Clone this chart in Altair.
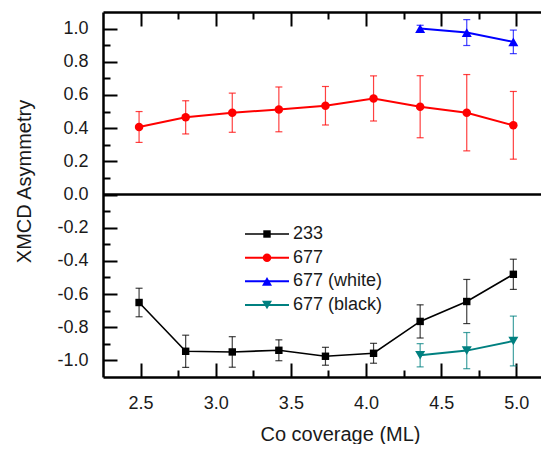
import altair as alt
import pandas as pd

# ---------------- data ----------------
coverage = [2.49, 2.80, 3.11, 3.42, 3.73, 4.05, 4.36, 4.67, 4.98]
coverage_hi = [4.36, 4.67, 4.98]

asym_233 = [-0.651, -0.945, -0.949, -0.939, -0.975, -0.957, -0.765, -0.645, -0.481]
err_233 = [0.086, 0.097, 0.092, 0.063, 0.054, 0.060, 0.100, 0.133, 0.091]

asym_677 = [0.407, 0.465, 0.493, 0.513, 0.535, 0.579, 0.529, 0.493, 0.417]
err_677 = [0.093, 0.100, 0.118, 0.135, 0.116, 0.136, 0.187, 0.230, 0.204]

asym_white = [1.000, 0.976, 0.920]
err_white = [0.020, 0.078, 0.071]

asym_black = [-0.969, -0.941, -0.883]
err_black = [0.070, 0.109, 0.150]

series_names = ["233", "677", "677 (white)", "677 (black)"]

x_major = [2.5, 3.0, 3.5, 4.0, 4.5, 5.0]
x_minor = [2.75, 3.25, 3.75, 4.25, 4.75]
y_major = [-1.0, -0.8, -0.6, -0.4, -0.2, 0.0, 0.2, 0.4, 0.6, 0.8, 1.0]
y_minor = [-0.9, -0.7, -0.5, -0.3, -0.1, 0.1, 0.3, 0.5, 0.7, 0.9]

# ---------------- styling ----------------
W, H = 438, 365
FONT = "Liberation Sans"
TXT = "#1a1a1a"
colors = ["#000000", "#ff0000", "#0000ff", "#008080"]
shapes = ["square", "circle", "triangle-up", "triangle-down"]
sizes = [55, 72, 100, 100]
line_widths = [1.6, 2.0, 2.0, 2.0]

# the reference frame runs past the right edge of the picture: keep the same
# pixels per unit and stop the plot area at the window edge
xs = alt.Scale(domain=[2.25, 5.164], nice=False, zero=False)
ys = alt.Scale(domain=[-1.1, 1.1], nice=False, zero=False)

label_expr = "replace(format(datum.value, '.1f'), '\u2212', '-')"

# ---------------- axes (frame with inward ticks) ----------------
axis_df = pd.DataFrame({"x": coverage, "y": asym_677})


def axis_layer(xaxis, yaxis):
    return alt.Chart(axis_df).mark_point(opacity=0).encode(
        x=alt.X("x:Q", scale=xs, axis=xaxis),
        y=alt.Y("y:Q", scale=ys, axis=yaxis),
    )


tick_common = dict(labels=False, grid=False, ticks=True, tickColor="#000000",
                   tickWidth=2, title=None)

x_label_axis = alt.Axis(
    orient="bottom", values=x_major, labelExpr=label_expr, ticks=False, tickSize=0,
    labelPadding=17, labelFont=FONT, labelFontSize=18, labelColor=TXT,
    domain=True, domainColor="#000000", domainWidth=2.5, grid=False,
    title="Co coverage (ML)", titleFont=FONT, titleFontSize=20, titleFontWeight="normal",
    titleColor=TXT, titleX=237, titleY=63, titleAlign="center",
    titleBaseline="alphabetic", titleAngle=0,
)
y_label_axis = alt.Axis(
    orient="left", values=y_major, labelExpr=label_expr, ticks=False, tickSize=0,
    labelPadding=15, labelFont=FONT, labelFontSize=18, labelColor=TXT,
    domain=True, domainColor="#000000", domainWidth=2.5, grid=False,
    title="XMCD Asymmetry", titleFont=FONT, titleFontSize=20, titleFontWeight="normal",
    titleColor=TXT, titleX=-73, titleY=169, titleAlign="center",
    titleBaseline="alphabetic", titleAngle=270,
)

axes = [
    axis_layer(x_label_axis, y_label_axis),
    # ticks on bottom/left edges pointing inward
    axis_layer(alt.Axis(orient="top", offset=-H, values=x_major, tickSize=14, domain=False, **tick_common),
               alt.Axis(orient="right", offset=-W, values=y_major, tickSize=14, domain=False, **tick_common)),
    axis_layer(alt.Axis(orient="top", offset=-H, values=x_minor, tickSize=7, domain=False, **tick_common),
               alt.Axis(orient="right", offset=-W, values=y_minor, tickSize=7, domain=False, **tick_common)),
    # ticks on the top edge pointing inward, with the frame line
    axis_layer(alt.Axis(orient="bottom", offset=-H, values=x_major, tickSize=14, domain=True,
                        domainColor="#000000", domainWidth=2.5, **tick_common), None),
    axis_layer(alt.Axis(orient="bottom", offset=-H, values=x_minor, tickSize=7, domain=False, **tick_common),
               None),
]

# ---------------- zero line ----------------
zero_line = alt.Chart(pd.DataFrame({"zero": [0.0]})).mark_rule(
    color="#000000", strokeWidth=2.5
).encode(y=alt.Y("zero:Q", scale=ys, axis=None))

# ---------------- series ----------------
series_data = [
    (coverage, asym_233, err_233),
    (coverage, asym_677, err_677),
    (coverage_hi, asym_white, err_white),
    (coverage_hi, asym_black, err_black),
]

data_layers = []
for i, (cx, cy, ce) in enumerate(series_data):
    d = pd.DataFrame({"x": cx, "y": cy, "err": ce, "series": series_names[i]})
    base = alt.Chart(d).transform_calculate(
        lo="datum.y - datum.err", hi="datum.y + datum.err"
    )
    X = alt.X("x:Q", scale=xs, axis=None)
    bars = base.mark_rule(color=colors[i], strokeWidth=1.2, opacity=0.75).encode(
        x=X, y=alt.Y("lo:Q", scale=ys, axis=None), y2="hi:Q"
    )
    caps = base.transform_fold(["lo", "hi"], as_=["end", "v"]).mark_tick(
        orient="horizontal", size=7, thickness=1.2, color=colors[i], opacity=0.75
    ).encode(x=X, y=alt.Y("v:Q", scale=ys, axis=None))
    line = base.mark_line(color=colors[i], strokeWidth=line_widths[i]).encode(
        x=X, y=alt.Y("y:Q", scale=ys, axis=None)
    )
    pts = base.mark_point(filled=True, opacity=1, shape=shapes[i], size=sizes[i],
                          color=colors[i]).encode(
        x=X, y=alt.Y("y:Q", scale=ys, axis=None)
    )
    data_layers += [bars, caps, line, pts]

# ---------------- legend ----------------
LEG_Y0, LEG_DY = 222, 23.67
LEG_X0, LEG_X1, LEG_XM, LEG_XT = 142, 186, 164, 190
legend_layers = []
for i, name in enumerate(series_names):
    ld = pd.DataFrame({"label": [name]})
    ly = LEG_Y0 + i * LEG_DY
    legend_layers += [
        alt.Chart(ld).mark_rule(color=colors[i], strokeWidth=line_widths[i]).encode(
            x=alt.value(LEG_X0), x2=alt.value(LEG_X1), y=alt.value(ly)),
        alt.Chart(ld).mark_point(filled=True, opacity=1, shape=shapes[i], size=sizes[i],
                                 color=colors[i]).encode(
            x=alt.value(LEG_XM), y=alt.value(ly)),
        alt.Chart(ld).mark_text(align="left", baseline="middle", font=FONT, fontSize=18,
                                color=TXT).encode(
            x=alt.value(LEG_XT), y=alt.value(ly), text="label:N"),
    ]

chart = alt.layer(*axes, zero_line, *data_layers, *legend_layers).resolve_axis(
    x="independent", y="independent"
).properties(
    width=W, height=H,
    padding={"left": 95, "top": 4, "right": 0, "bottom": 67},
    autosize=alt.AutoSizeParams(type="none"),
    background="white",
).configure_view(stroke=None)

chart.save("out.html", embed_options={"renderer": "svg", "actions": False})
